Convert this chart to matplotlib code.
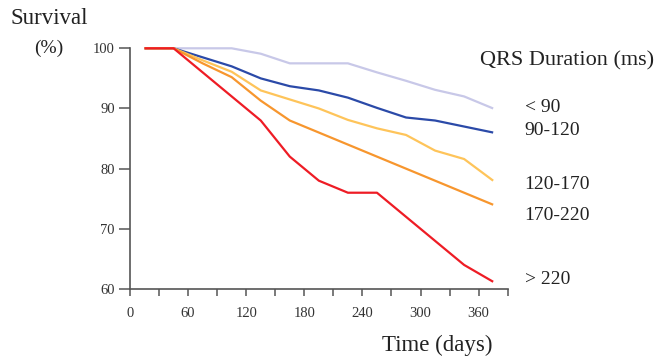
import matplotlib.pyplot as plt
import numpy as np

# survival (%), every 30 days starting at day 15
days = [15, 45, 75, 105, 135, 165, 195, 225, 255, 285, 315, 345, 375]
lt90 = [100, 100, 100, 100, 99.1, 97.5, 97.5, 97.5, 96.0, 94.6, 93.1, 92.0, 90.0]
qrs_90_120 = [100, 100, 98.5, 97.0, 95.0, 93.7, 93.0, 91.8, 90.1, 88.5, 88.0, 87.0, 86.0]
qrs_120_170 = [100, 100, 98.0, 96.1, 93.0, 91.5, 90.0, 88.1, 86.7, 85.6, 83.0, 81.6, 78.0]
qrs_170_220 = [100, 100, 97.5, 95.2, 91.3, 88.0, 86.0, 84.0, 82.0, 80.0, 78.0, 76.0, 74.0]
gt220 = [100, 100, 96.0, 92.0, 88.0, 82.0, 78.0, 76.0, 76.0, 72.0, 68.0, 64.0, 61.2]

series = [lt90, qrs_90_120, qrs_120_170, qrs_170_220, gt220]
labels = ['< 90', '90-120', '120-170', '170-220', '> 220']
colors = ['#c8c8e8', '#2b4aa8', '#fec45a', '#f7962e', '#ee1c25']
label_y = [90.2, 86.3, 77.4, 72.2, 61.5]

plt.rcParams['font.family'] = ['Liberation Serif', 'DejaVu Serif']

fig = plt.figure(figsize=(6.65, 3.58), dpi=100)
ax = fig.add_axes([130 / 665, 1 - 289 / 358, (507.7 - 130) / 665, (289 - 48.3) / 358])

for vals, col in zip(series, colors):
    ax.plot(days, vals, color=col, linewidth=1.6, clip_on=False, solid_capstyle='butt')

for lab, yv in zip(labels, label_y):
    ax.text(1.045, (yv - 60) / 40, lab, transform=ax.transAxes, fontsize=14,
            color='#222222', va='center', ha='left')

ax.set_xlim(0, 390)
ax.set_ylim(60, 100)
ax.set_xticks(np.arange(0, 391, 30))
ax.set_xticklabels([str(v) if v % 60 == 0 and v < 390 else '' for v in range(0, 391, 30)])
ax.set_yticks([60, 70, 80, 90, 100])

for s in ['top', 'right']:
    ax.spines[s].set_visible(False)
for s in ['left', 'bottom']:
    ax.spines[s].set_color('#555555')
    ax.spines[s].set_linewidth(1.2)
ax.tick_params(axis='y', length=8, width=1.1, color='#555555', labelsize=10.5,
               labelcolor='#333333', pad=3)
ax.tick_params(axis='x', length=5, width=1.1, color='#555555', labelsize=10.5,
               labelcolor='#333333', pad=8)

fig.text(10 / 665, 1 - 18 / 358, 'Survival', fontsize=16.5, color='#222222', va='center', ha='left')
fig.text(48.5 / 665, 1 - 48 / 358, '(%)', fontsize=14, color='#222222', va='center', ha='center')
fig.text(567 / 665, 1 - 61 / 358, 'QRS Duration (ms)', fontsize=16, color='#222222',
         va='center', ha='center')
fig.text(437 / 665, 1 - 345 / 358, 'Time (days)', fontsize=16.5, color='#222222',
         va='center', ha='center')

fig.savefig('out.png', dpi=100)
